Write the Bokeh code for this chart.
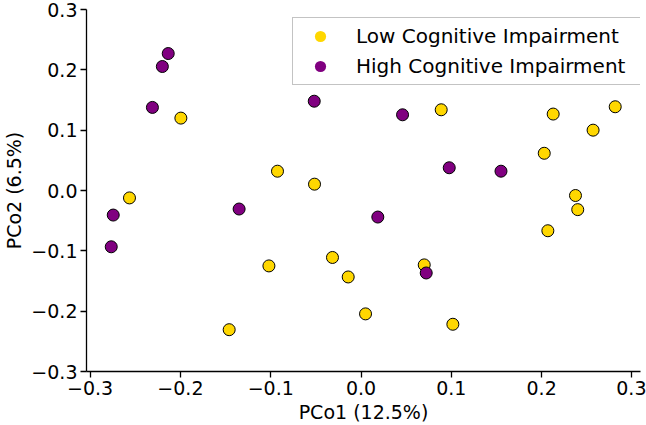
from bokeh.plotting import figure
from bokeh.models import FixedTicker, Legend, LegendItem, ColumnDataSource
from bokeh.embed import file_html
from bokeh.resources import INLINE

# Data
low_x = [-0.1995, -0.2564, -0.0925, -0.0515, 0.0888, 0.2128, 0.2815, 0.257, 0.2029,
         0.2375, 0.240, 0.2069, -0.102, -0.146, -0.0316, -0.0142, 0.005, 0.070, 0.1017]
low_y = [0.120, -0.0123, 0.032, 0.0105, 0.1338, 0.1267, 0.1388, 0.100, 0.0617,
         -0.0083, -0.0317, -0.0667, -0.125, -0.2307, -0.111, -0.1433, -0.2045, -0.1233, -0.2217]
high_x = [-0.2135, -0.220, -0.231, -0.0518, 0.046, 0.0977, 0.155, -0.2744, -0.2766,
          -0.135, 0.0186, 0.0722]
high_y = [0.227, 0.2055, 0.1377, 0.148, 0.1255, 0.0377, 0.032, -0.0407, -0.0933,
          -0.0307, -0.044, -0.1367]

series_names = ["Low Cognitive Impairment", "High Cognitive Impairment"]
series_colors = ["#FFD700", "#800080"]

tick_values = [-0.3, -0.2, -0.1, 0.0, 0.1, 0.2, 0.3]
tick_labels = ["\u22120.3", "\u22120.2", "\u22120.1", "0.0", "0.1", "0.2", "0.3"]

x_label = "PCo1 (12.5%)"
y_label = "PCo2 (6.5%)"

FONT = "DejaVu Sans"
FS = "19px"

p = figure(width=646, height=425, x_range=(-0.304, 0.3095), y_range=(-0.3, 0.3),
           output_backend="svg", toolbar_location=None,
           min_border_top=9, min_border_right=6, min_border_left=86, min_border_bottom=0)
p.outline_line_color = None
p.xgrid.visible = False
p.ygrid.visible = False
p.background_fill_color = "white"
p.border_fill_color = "white"

overrides = {v: l for v, l in zip(tick_values, tick_labels)}
for ax in (p.xaxis[0], p.yaxis[0]):
    ax.ticker = FixedTicker(ticks=tick_values)
    ax.major_label_overrides = overrides
    ax.axis_line_color = "black"
    ax.axis_line_width = 1.3
    ax.major_tick_line_color = "black"
    ax.major_tick_line_width = 1.3
    ax.major_tick_out = 6
    ax.major_tick_in = 0
    ax.minor_tick_line_color = None
    ax.major_label_text_font = FONT
    ax.major_label_text_font_size = FS
    ax.major_label_text_color = "black"
    ax.axis_label_text_font = FONT
    ax.axis_label_text_font_size = FS
    ax.axis_label_text_font_style = "normal"
    ax.axis_label_text_color = "black"

p.yaxis.major_label_standoff = 3
p.yaxis.axis_label_standoff = 3
p.xaxis.major_label_standoff = 3
p.xaxis.axis_label_standoff = 3

p.xaxis.axis_label = x_label
p.yaxis.axis_label = y_label

src_low = ColumnDataSource(dict(x=low_x, y=low_y))
src_high = ColumnDataSource(dict(x=high_x, y=high_y))

p.scatter("x", "y", source=src_low, size=12, fill_color=series_colors[0],
          line_color="black", line_width=1)
p.scatter("x", "y", source=src_high, size=12, fill_color=series_colors[1],
          line_color="black", line_width=1)

# legend-only renderers (zero size on the plot, no outline, like the reference legend)
leg_low = p.scatter("x", "y", source=src_low, size=0, fill_color=series_colors[0], line_color=None)
leg_high = p.scatter("x", "y", source=src_high, size=0, fill_color=series_colors[1], line_color=None)

legend = Legend(items=[LegendItem(label=series_names[0], renderers=[leg_low]),
                       LegendItem(label=series_names[1], renderers=[leg_high])],
                location=(206, 286), margin=0, padding=4,
                glyph_width=46, glyph_height=28, label_standoff=13,
                label_width=283, label_height=28, spacing=2,
                label_text_font=FONT, label_text_font_size="20px", label_text_color="black",
                border_line_color="#888888", border_line_width=1,
                background_fill_color="white", background_fill_alpha=1.0)
p.add_layout(legend)

open("out.html", "w").write(file_html(p, INLINE))
